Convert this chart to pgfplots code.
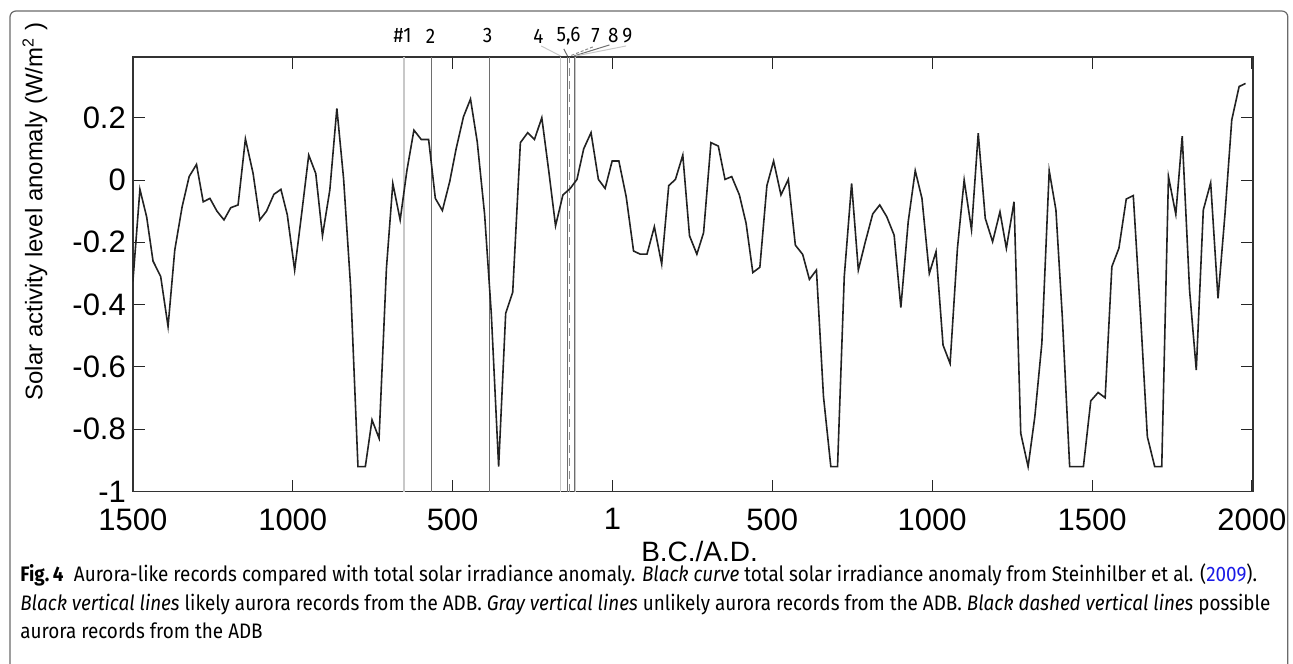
\documentclass[border=0pt]{standalone}
\usepackage{fontspec}
\setmainfont{Liberation Sans}
\newfontfamily\capfont[FakeStretch=0.9]{Fira Sans}
\usepackage{pgfplots}
\pgfplotsset{compat=1.18}

\definecolor{curve}{HTML}{222222}
\definecolor{likely}{HTML}{6E6E6E}
\definecolor{unlikely}{HTML}{C8C8C8}
\definecolor{possible}{HTML}{8A8A8A}
\definecolor{framegray}{HTML}{6A6A6A}
\definecolor{linkblue}{HTML}{1A1AE6}

\pgfplotstableread{
year tsi
-1500 -0.326
-1478 -0.03
-1457 -0.118
-1437 -0.26
-1413 -0.31
-1390 -0.47
-1369 -0.225
-1346 -0.086
-1324 0.011
-1301 0.05
-1280 -0.07
-1259 -0.059
-1237 -0.10
-1215 -0.128
-1194 -0.089
-1171 -0.08
-1148 0.132
-1124 0.021
-1103 -0.128
-1082 -0.10
-1059 -0.046
-1037 -0.03
-1017 -0.112
-994 -0.289
-972 -0.107
-950 0.08
-928 0.021
-907 -0.179
-884 -0.032
-862 0.23
-841 0.005
-819 -0.342
-796 -0.92
-773 -0.92
-752 -0.77
-730 -0.829
-707 -0.284
-687 -0.011
-664 -0.128
-643 0.03
-621 0.16
-598 0.13
-575 0.13
-554 -0.059
-532 -0.098
-509 -0.005
-489 0.10
-466 0.203
-444 0.26
-423 0.123
-400 -0.109
-379 -0.428
-356 -0.92
-334 -0.428
-312 -0.36
-288 0.12
-265 0.152
-244 0.13
-221 0.2
-199 0.027
-178 -0.147
-155 -0.048
-132 -0.027
-111 0.002
-90 0.10
-67 0.152
-44 0.002
-23 -0.027
-1 0.061
20 0.061
43 -0.054
66 -0.228
87 -0.238
108 -0.238
131 -0.15
154 -0.27
176 -0.018
197 0.002
220 0.08
241 -0.179
264 -0.238
285 -0.169
308 0.12
331 0.109
352 0.002
373 0.011
397 -0.048
418 -0.139
439 -0.297
461 -0.28
483 -0.018
504 0.061
527 -0.048
550 0.002
572 -0.209
595 -0.239
616 -0.319
638 -0.289
660 -0.695
683 -0.92
704 -0.92
725 -0.31
748 -0.011
769 -0.289
791 -0.198
814 -0.109
836 -0.08
858 -0.118
881 -0.177
902 -0.409
925 -0.134
947 0.03
968 -0.059
991 -0.30
1012 -0.23
1034 -0.53
1056 -0.589
1079 -0.219
1100 0.0
1123 -0.16
1144 0.15
1166 -0.123
1189 -0.198
1212 -0.102
1232 -0.219
1256 -0.07
1277 -0.813
1300 -0.92
1321 -0.76
1343 -0.524
1366 0.03
1387 -0.096
1407 -0.439
1430 -0.92
1452 -0.92
1473 -0.92
1496 -0.709
1519 -0.682
1541 -0.699
1562 -0.278
1584 -0.219
1607 -0.061
1629 -0.05
1652 -0.439
1673 -0.824
1696 -0.92
1718 -0.92
1739 0.011
1762 -0.11
1782 0.141
1805 -0.353
1826 -0.61
1848 -0.096
1871 -0.009
1894 -0.38
1916 -0.107
1937 0.193
1960 0.30
1980 0.31
}\tsidata

\begin{document}
\begin{tikzpicture}
  % picture laid out in image pixels: 1 px = 0.5pt, y downwards
  \begin{scope}[x=0.5pt,y=-0.5pt]
    \useasboundingbox (0,0) rectangle (1293,664);
    \draw[framegray, line width=0.6pt, rounded corners=3pt]
      (10,700) -- (10,11) -- (1289,11) -- (1289,700);
  \end{scope}

  \begin{axis}[
    at={(66.5pt,-246pt)}, anchor=south west,
    scale only axis,
    width=560.5pt, height=217.5pt,
    xmin=-1500, xmax=2003,
    ymin=-1, ymax=0.395,
    xtick={-1500,-1000,-500,0,500,1000,1500,2000},
    xticklabels={1500,1000,500,1,500,1000,1500,2000},
    ytick={-1,-0.8,-0.6,-0.4,-0.2,0,0.2},
    yticklabels={-1,-0.8,-0.6,-0.4,-0.2,0,0.2},
    tick align=inside,
    xtick pos=both, ytick pos=both,
    major tick length=6pt,
    tick style={line width=0.5pt, black!85},
    axis line style={line width=0.7pt, black!80},
    ticklabel style={font=\fontsize{15.5}{17}\selectfont},
    xticklabel style={yshift=-5pt},
    xlabel={B.C./A.D.},
    ylabel={Solar activity level anomaly (W/m\textsuperscript{2} )},
    every axis x label/.style={at={(axis description cs:0.506,-0.138)}, anchor=center, font=\fontsize{14}{16}\selectfont},
    every axis y label/.style={at={(axis description cs:-0.0874,0.644)}, anchor=center, rotate=90, font=\fontsize{12}{14}\selectfont},
  ]
    % aurora-like records
    \addplot[unlikely, line width=0.55pt] coordinates {(-652,-1) (-652,0.395)};
    \addplot[likely, line width=0.55pt] coordinates {(-567,-1) (-567,0.395)};
    \addplot[likely, line width=0.55pt] coordinates {(-384,-1) (-384,0.395)};
    \addplot[unlikely, line width=0.55pt] coordinates {(-162,-1) (-162,0.395)};
    \addplot[likely, line width=0.55pt] coordinates {(-141,-1) (-141,0.395)};
    \addplot[possible, line width=0.55pt, dash pattern=on 4pt off 2.5pt] coordinates {(-133,-1) (-133,0.395)};
    \addplot[likely, line width=0.55pt] coordinates {(-120,-1) (-120,0.395)};
    \addplot[unlikely, line width=0.55pt] coordinates {(-115,-1) (-115,0.395)};
    % TSI anomaly
    \addplot[curve, line width=0.8pt] table[x=year, y=tsi] {\tsidata};
  \end{axis}

  \begin{scope}[x=0.5pt,y=-0.5pt]
    % record numbers and leaders
    \begin{scope}[every node/.style={font=\capfont\fontsize{10.5}{12}\selectfont, inner sep=0pt}]
      \node at (403,36) {\#1};
      \node at (431,36) {2};
      \node at (488,36) {3};
      \node at (539,36) {4};
      \node at (569,36) {5,6};
      \node at (596,36) {7};
      \node at (614,36) {8};
      \node at (628,36) {9};
    \end{scope}
    \draw[unlikely, line width=0.5pt] (541.7,46) -- (561,56);
    \draw[likely, line width=0.5pt] (564.3,49) -- (568,56);
    \draw[possible, line width=0.5pt, dash pattern=on 1.5pt off 1pt] (593.3,47) -- (570.5,56);
    \draw[likely, line width=0.5pt] (610,45) -- (574.6,56);
    \draw[unlikely, line width=0.5pt] (626.7,46) -- (576.2,56);

    % caption
    \begin{scope}[every node/.style={font=\capfont\fontsize{10.5}{12}\selectfont, inner sep=0pt, anchor=base west}]
      \node at (20,582) {\textbf{Fig.\,4}\enspace Aurora-like records compared with total solar irradiance anomaly. \textit{Black curve} total solar irradiance anomaly from Steinhilber et al. (\textcolor{linkblue}{2009}).};
      \node at (20,611) {\textit{Black vertical lines} likely aurora records from the ADB. \textit{Gray vertical lines} unlikely aurora records from the ADB. \textit{Black dashed vertical lines} possible};
      \node at (20,639) {aurora records from the ADB};
    \end{scope}
  \end{scope}
\end{tikzpicture}
\end{document}
